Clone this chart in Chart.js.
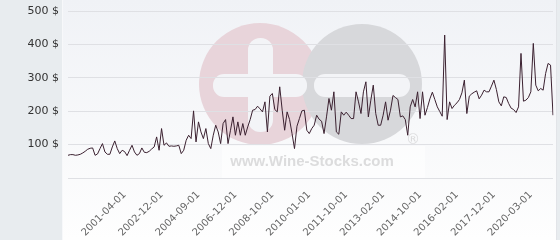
<!DOCTYPE html>
<html>
<head>
<meta charset="utf-8">
<script src="https://cdn.jsdelivr.net/npm/chart.js@4/dist/chart.umd.min.js"></script>
<style>
    html, body { margin: 0; padding: 0; background: #fff; }
    #wrap { width: 560px; height: 240px; }
</style>
</head>
<body>
<div id="wrap"><canvas id="priceChart" width="560" height="240"></canvas></div>
<script>
// Auction dates (monthly, with gaps)
const dates = [
    '1999-05-01', '1999-06-01', '1999-07-01', '1999-08-01', '1999-09-01', '1999-10-01', '1999-11-01', '1999-12-01',
    '2000-01-01', '2000-02-01', '2000-03-01', '2000-04-01', '2000-05-01', '2000-06-01', '2000-07-01', '2000-08-01', '2000-09-01', '2000-10-01', '2000-11-01', '2000-12-01',
    '2001-01-01', '2001-02-01', '2001-03-01', '2001-04-01', '2001-05-01', '2001-06-01', '2001-07-01', '2001-09-01', '2001-10-01', '2001-11-01', '2001-12-01',
    '2002-02-01', '2002-03-01', '2002-04-01', '2002-05-01', '2002-07-01', '2002-09-01', '2002-10-01', '2002-12-01',
    '2003-01-01', '2003-02-01', '2003-03-01', '2003-05-01', '2003-06-01', '2003-08-01', '2003-09-01', '2003-11-01',
    '2004-01-01', '2004-02-01', '2004-03-01', '2004-05-01', '2004-06-01', '2004-07-01', '2004-09-01', '2004-11-01',
    '2005-02-01', '2005-03-01', '2005-05-01', '2005-06-01', '2005-09-01', '2005-10-01', '2005-12-01',
    '2006-02-01', '2006-03-01', '2006-05-01', '2006-06-01', '2006-09-01', '2006-10-01', '2006-12-01',
    '2007-01-01', '2007-02-01', '2007-03-01', '2007-05-01', '2007-06-01', '2007-07-01', '2007-09-01', '2007-10-01', '2007-11-01',
    '2008-02-01', '2008-03-01', '2008-05-01', '2008-06-01', '2008-08-01', '2008-10-01', '2008-11-01', '2008-12-01',
    '2009-01-01', '2009-02-01', '2009-03-01', '2009-04-01', '2009-05-01', '2009-06-01', '2009-07-01', '2009-08-01', '2009-09-01', '2009-10-01', '2009-11-01', '2009-12-01',
    '2010-01-01', '2010-02-01', '2010-03-01', '2010-04-01', '2010-06-01', '2010-07-01', '2010-09-01', '2010-10-01', '2010-11-01', '2010-12-01',
    '2011-02-01', '2011-03-01', '2011-05-01', '2011-06-01', '2011-08-01', '2011-10-01', '2011-11-01', '2011-12-01',
    '2012-01-01', '2012-02-01', '2012-03-01', '2012-04-01', '2012-05-01', '2012-06-01', '2012-07-01', '2012-09-01', '2012-10-01', '2012-11-01', '2012-12-01',
    '2013-01-01', '2013-02-01', '2013-03-01', '2013-04-01', '2013-05-01', '2013-06-01', '2013-07-01', '2013-09-01', '2013-10-01', '2013-11-01', '2013-12-01',
    '2014-02-01', '2014-03-01', '2014-05-01', '2014-06-01', '2014-08-01', '2014-10-01', '2014-11-01', '2014-12-01',
    '2015-01-01', '2015-02-01', '2015-03-01', '2015-04-01', '2015-05-01', '2015-06-01', '2015-07-01', '2015-09-01', '2015-10-01', '2015-11-01', '2015-12-01',
    '2016-01-01', '2016-02-01', '2016-03-01', '2016-04-01', '2016-05-01', '2016-06-01', '2016-09-01', '2016-10-01', '2016-11-01', '2016-12-01',
    '2017-02-01', '2017-03-01', '2017-05-01', '2017-06-01', '2017-09-01', '2017-10-01', '2017-12-01',
    '2018-02-01', '2018-03-01', '2018-05-01', '2018-06-01', '2018-09-01', '2018-11-01',
    '2019-01-01', '2019-03-01', '2019-05-01', '2019-06-01', '2019-09-01', '2019-11-01',
    '2020-01-01', '2020-02-01', '2020-03-01', '2020-05-01', '2020-06-01', '2020-09-01', '2020-10-01', '2020-12-01',
    '2021-02-01', '2021-03-01', '2021-05-01', '2021-06-01'
];

// Price per bottle ($)
const prices = [
    68, 70, 70, 68, 69, 71, 75, 80, 86, 89, 90, 68, 72, 88, 103, 78, 71, 71, 93, 111,
    88, 73, 83, 79, 67, 83, 98, 78, 68, 73, 90, 77, 76, 80, 87, 93, 123, 83, 148, 98,
    105, 95, 96, 95, 96, 98, 73, 83, 113, 128, 118, 201, 108, 168, 138, 118, 148, 103, 88, 128,
    158, 138, 103, 163, 175, 103, 143, 183, 128, 168, 128, 163, 128, 153, 175, 203, 205, 215, 207, 198,
    228, 138, 245, 253, 205, 198, 273, 203, 143, 198, 175, 133, 88, 155, 178, 201, 203, 143, 133, 148,
    158, 188, 176, 170, 133, 183, 238, 203, 258, 138, 131, 198, 188, 197, 188, 178, 178, 258, 228, 193,
    258, 288, 183, 233, 278, 193, 158, 158, 188, 228, 173, 203, 247, 241, 235, 183, 186, 175, 128, 213,
    235, 213, 258, 178, 258, 188, 211, 237, 257, 235, 213, 199, 185, 428, 175, 228, 208, 218, 225, 235,
    255, 293, 193, 245, 252, 257, 261, 237, 248, 263, 258, 258, 275, 293, 265, 228, 216, 243, 241, 223,
    209, 205, 196, 213, 373, 230, 233, 241, 258, 403, 278, 261, 268, 263, 313, 343, 338, 188
];

// Dates shown under the x axis
const tickLabels = [
    '2001-04-01', '2002-12-01', '2004-09-01', '2006-12-01', '2008-10-01', '2010-01-01',
    '2011-10-01', '2013-02-01', '2014-10-01', '2016-02-01', '2017-12-01', '2020-03-01'
];

// Panel background + watermark logo
const backdrop = {
    id: 'backdrop',
    beforeDraw(chart) {
        const ctx = chart.ctx;
        const w = chart.width, h = chart.height;
        ctx.save();
        ctx.fillStyle = '#e8ecef';
        ctx.fillRect(0, 0, w, h);
        const g = ctx.createLinearGradient(0, 0, 0, h);
        g.addColorStop(0, '#f0f2f6');
        g.addColorStop(1, '#fefefe');
        ctx.fillStyle = g;
        ctx.fillRect(63, 0, 493, h);
        ctx.fillStyle = '#f7f8fa';
        ctx.fillRect(62, 0, 1, h);
        ctx.fillStyle = '#e2e4e8';
        ctx.fillRect(556, 0, 1, h);

        // logo circles
        ctx.fillStyle = '#e8d4da';
        ctx.beginPath(); ctx.arc(260, 84, 61, 0, Math.PI * 2); ctx.fill();
        ctx.fillStyle = '#d7d8db';
        ctx.beginPath(); ctx.arc(362, 84, 60, 0, Math.PI * 2); ctx.fill();

        // plus and minus
        ctx.fillStyle = '#f3f4f7';
        ctx.beginPath(); ctx.roundRect(248, 38, 25, 94, 12); ctx.fill();
        ctx.beginPath(); ctx.roundRect(213, 74, 94, 23, 11); ctx.fill();
        ctx.beginPath(); ctx.roundRect(314, 74, 96, 23, 11); ctx.fill();

        // text
        ctx.fillStyle = 'rgba(255, 255, 255, 0.5)';
        ctx.fillRect(222, 146, 203, 32);
        ctx.fillStyle = '#dcdcdd';
        ctx.font = 'bold 15px "Liberation Sans", Arial, sans-serif';
        ctx.textAlign = 'center';
        ctx.textBaseline = 'alphabetic';
        ctx.fillText('www.Wine-Stocks.com', 312, 166);
        ctx.font = '14px "DejaVu Sans", sans-serif';
        ctx.fillText('®', 413, 144);
        ctx.restore();
    }
};

new Chart(document.getElementById('priceChart'), {
    type: 'line',
    data: {
        labels: dates,
        datasets: [{
            data: prices,
            borderColor: '#3b2130',
            borderWidth: 1,
            pointRadius: 0,
            tension: 0,
            fill: false
        }]
    },
    options: {
        responsive: false,
        animation: false,
        layout: {
            padding: { top: 11, right: 7, left: 0, bottom: 0 }
        },
        plugins: {
            legend: { display: false },
            tooltip: { enabled: false }
        },
        scales: {
            x: {
                grid: { display: false, drawTicks: false, tickLength: 0 },
                border: { display: false },
                ticks: {
                    autoSkip: false,
                    maxRotation: 45,
                    minRotation: 45,
                    padding: 11,
                    color: '#666',
                    font: { family: 'DejaVu Sans', size: 10 },
                    callback: function(value) {
                        const label = this.getLabelForValue(value);
                        return tickLabels.includes(label) ? label : null;
                    }
                },
                afterFit: function(scale) {
                    scale.height = 62;
                    scale.paddingLeft = 0;
                    scale.paddingRight = 0;
                }
            },
            y: {
                min: 0,
                max: 500,
                grid: { color: '#dfe0e4', drawTicks: false, tickLength: 0 },
                border: { display: false },
                ticks: {
                    stepSize: 100,
                    padding: 9,
                    color: '#333',
                    font: { family: 'DejaVu Sans', size: 11 },
                    callback: function(value) {
                        return value === 0 ? '' : value + ' $';
                    }
                },
                afterFit: function(scale) {
                    scale.width = 68;
                    scale.paddingTop = 0;
                    scale.paddingBottom = 0;
                }
            }
        }
    },
    plugins: [backdrop]
});
</script>
</body>
</html>
